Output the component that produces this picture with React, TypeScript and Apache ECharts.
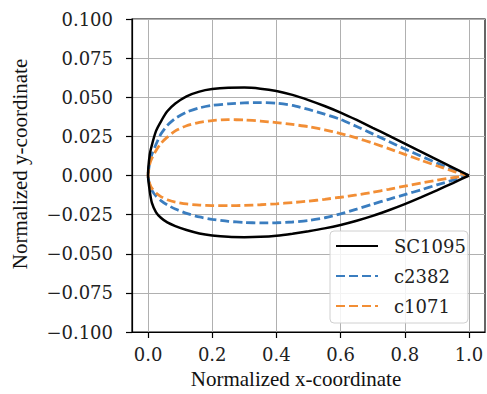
import React, { useEffect, useRef } from "react";
import * as echarts from "echarts";

// Chordwise stations (normalized x)
const stations = [0, 0.005, 0.012, 0.025, 0.04, 0.06, 0.085, 0.12, 0.16, 0.2, 0.25, 0.3, 0.35, 0.4, 0.45, 0.5, 0.55, 0.6, 0.65, 0.7, 0.75, 0.8, 0.85, 0.9, 0.95, 1.0];

const sc1095Upper = [0, 0.013, 0.0195, 0.0285, 0.0345, 0.041, 0.046, 0.0506, 0.0536, 0.0552, 0.0561, 0.0562, 0.0555, 0.054, 0.0515, 0.0482, 0.0444, 0.0402, 0.0355, 0.0305, 0.0255, 0.0204, 0.0153, 0.0102, 0.0051, 0];
const sc1095Lower = [0, -0.0095, -0.0175, -0.0235, -0.027, -0.03, -0.0323, -0.0348, -0.037, -0.0383, -0.0392, -0.0394, -0.0392, -0.0385, -0.0372, -0.0356, -0.0338, -0.0316, -0.0289, -0.0258, -0.0222, -0.0183, -0.014, -0.0095, -0.0048, 0];

const c2382Upper = [0, 0.008, 0.0135, 0.02, 0.0265, 0.032, 0.0365, 0.0405, 0.0432, 0.0448, 0.0458, 0.0464, 0.0466, 0.0462, 0.0448, 0.0422, 0.0392, 0.0358, 0.0313, 0.0266, 0.0218, 0.017, 0.0124, 0.008, 0.0038, 0];
const c2382Lower = [0, -0.006, -0.0095, -0.0132, -0.016, -0.0188, -0.0214, -0.0242, -0.0265, -0.028, -0.0293, -0.03, -0.0303, -0.0302, -0.0297, -0.0288, -0.027, -0.0245, -0.0215, -0.0183, -0.0152, -0.0122, -0.0092, -0.006, -0.003, 0];

const c1071Upper = [0, 0.007, 0.011, 0.016, 0.0205, 0.0245, 0.0285, 0.0318, 0.034, 0.0351, 0.0357, 0.0355, 0.0348, 0.0338, 0.0326, 0.0312, 0.0292, 0.0268, 0.024, 0.0207, 0.0172, 0.0135, 0.0098, 0.0062, 0.0028, 0];
const c1071Lower = [0, -0.005, -0.0082, -0.0112, -0.0135, -0.0155, -0.017, -0.0182, -0.0189, -0.0192, -0.0193, -0.0191, -0.0187, -0.0181, -0.0173, -0.0164, -0.0152, -0.0139, -0.0124, -0.0107, -0.0088, -0.0068, -0.0048, -0.003, -0.0014, 0];

const seriesNames = ["SC1095", "c2382", "c1071"];
const xTicks = [0, 0.2, 0.4, 0.6, 0.8, 1.0];
const xAxisName = "Normalized x-coordinate";
const yAxisName = "Normalized y-coordinate";

function loop(upper: number[], lower: number[]): number[][] {
  const pts: number[][] = [];
  for (let i = stations.length - 1; i >= 0; i--) pts.push([stations[i], upper[i]]);
  for (let i = 1; i < stations.length; i++) pts.push([stations[i], lower[i]]);
  return pts;
}

const tickFont = "'DejaVu Serif', serif";
const nameFont = "'Liberation Serif', 'Times New Roman', serif";

export default function App() {
  const ref = useRef<HTMLDivElement>(null);
  useEffect(() => {
    document.body.style.margin = "0";
    const chart = echarts.init(ref.current!, null, { renderer: "svg" });
    const lineCommon = { type: "line", showSymbol: false, symbol: "none", smooth: 0.2 };
    chart.setOption({
      animation: false,
      backgroundColor: "#ffffff",
      grid: { left: 132, right: 2, top: 19, bottom: 62, show: true, borderColor: "#000", borderWidth: 1.2, backgroundColor: "transparent" },
      xAxis: {
        type: "value",
        min: -0.05,
        max: 1.05,
        axisLine: { show: true, onZero: false, lineStyle: { color: "#000", width: 1.2 } },
        axisTick: { show: true, customValues: xTicks, length: 6, lineStyle: { color: "#000", width: 1.2 } },
        axisLabel: { customValues: xTicks, formatter: (v: number) => v.toFixed(1), color: "#222", fontFamily: tickFont, fontSize: 18, margin: 13 },
        splitLine: { show: true, lineStyle: { color: "#b0b0b0", width: 1 } },
      },
      yAxis: {
        type: "value",
        min: -0.1,
        max: 0.1,
        interval: 0.025,
        axisLine: { show: true, onZero: false, lineStyle: { color: "#000", width: 1.2 } },
        axisTick: { show: true, length: 6, lineStyle: { color: "#000", width: 1.2 } },
        axisLabel: {
          formatter: (v: number) => (Math.abs(v) < 1e-9 ? "0.000" : (v < 0 ? "\u2212" : "") + Math.abs(v).toFixed(3)),
          color: "#222", fontFamily: tickFont, fontSize: 18, margin: 19,
        },
        splitLine: { show: true, lineStyle: { color: "#b0b0b0", width: 1 } },
      },
      legend: {
        orient: "vertical",
        left: 330,
        top: 231,
        padding: [6, 2, 8, 5],
        itemWidth: 42,
        itemHeight: 14,
        itemGap: 12,
        backgroundColor: "rgba(255,255,255,0.85)",
        borderColor: "#d0d0d0",
        borderWidth: 1,
        borderRadius: 4,
        itemStyle: { opacity: 0 },
        textStyle: { fontFamily: tickFont, fontSize: 18, color: "#222", padding: [0, 0, 0, 11] },
        data: seriesNames,
      },
      graphic: [
        { type: "text", x: 296, y: 379, style: { text: xAxisName, fontFamily: nameFont, fontSize: 21, fill: "#111", align: "center", verticalAlign: "middle" } },
        { type: "text", x: 20, y: 164, rotation: Math.PI / 2, style: { text: yAxisName, fontFamily: nameFont, fontSize: 21, fill: "#111", align: "center", verticalAlign: "middle" } },
      ],
      series: [
        { ...lineCommon, name: seriesNames[0], data: loop(sc1095Upper, sc1095Lower), lineStyle: { color: "#000", width: 2.5 }, itemStyle: { color: "#000" }, z: 3 },
        { ...lineCommon, name: seriesNames[1], data: loop(c2382Upper, c2382Lower), lineStyle: { color: "#3a7dbf", width: 2.8, type: [9, 4] }, itemStyle: { color: "#3a7dbf" }, z: 2 },
        { ...lineCommon, name: seriesNames[2], data: loop(c1071Upper, c1071Lower), lineStyle: { color: "#f28e35", width: 2.8, type: [9, 4] }, itemStyle: { color: "#f28e35" }, z: 2 },
      ],
    });
    return () => chart.dispose();
  }, []);
  return <div ref={ref} style={{ width: 487, height: 394 }} />;
}
